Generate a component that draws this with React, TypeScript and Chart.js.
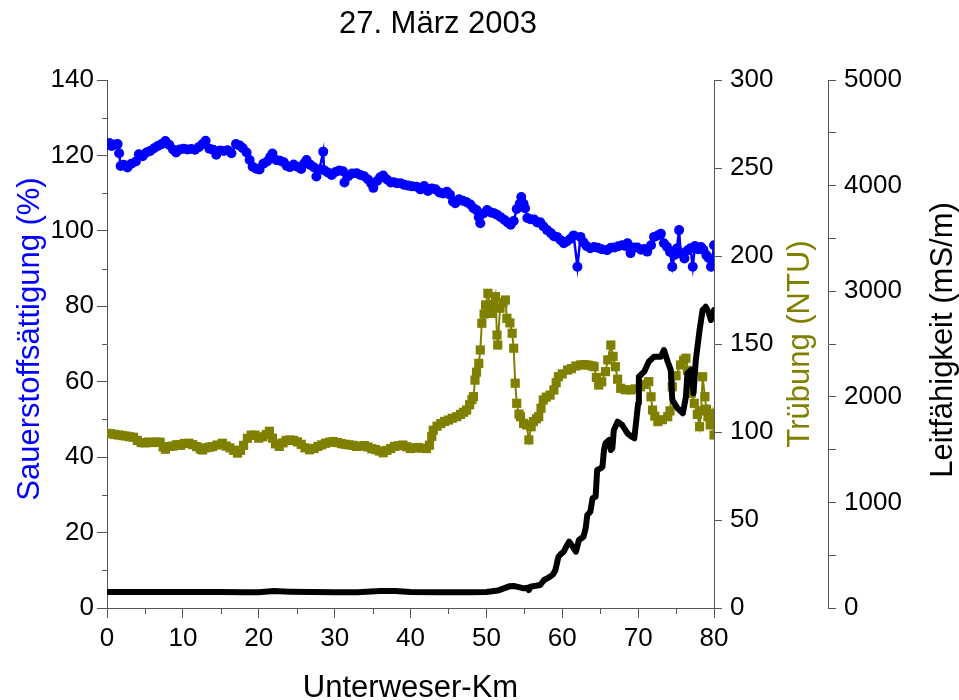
import React, { useEffect, useRef } from "react";
import { Chart, registerables } from "chart.js";

Chart.register(...registerables);

const chartTitle = "27. März 2003";
const xTitle = "Unterweser-Km";
const o2Title = "Sauerstoffsättigung (%)";
const ntuTitle = "Trübung (NTU)";
const lfTitle = "Leitfähigkeit (mS/m)";

// Sauerstoffsättigung (%)
const kmO2 = [0, 0.3, 0.6, 1.0, 1.4, 1.6, 1.8, 2.2, 2.7, 3.2, 3.8, 4.2, 4.7, 5.2, 5.7, 6.2, 6.7, 7.2, 7.7, 8.2, 8.7, 9.1, 9.6, 10.1, 10.6, 11.1, 11.6, 12.1, 12.6, 13.0, 13.5, 14.0, 14.4, 14.9, 15.4, 15.9, 16.4, 17.0, 17.5, 17.9, 18.4, 18.8, 19.2, 19.7, 20.1, 20.6, 21.1, 21.5, 21.8, 22.3, 22.8, 23.3, 23.7, 24.1, 24.6, 25.1, 25.6, 26.0, 26.3, 26.8, 27.3, 27.6, 28.0, 28.5, 28.6, 29.1, 29.6, 30.1, 30.6, 31.1, 31.3, 31.8, 32.3, 32.9, 33.4, 33.9, 34.4, 34.8, 35.1, 35.6, 36.0, 36.4, 36.9, 37.4, 37.8, 38.2, 38.7, 39.2, 39.7, 40.2, 40.8, 41.3, 41.8, 42.3, 42.8, 43.3, 43.8, 44.3, 44.8, 45.2, 45.6, 45.9, 46.4, 46.9, 47.4, 47.9, 48.3, 48.7, 49.0, 49.2, 49.6, 50.1, 50.6, 51.0, 51.4, 51.9, 52.4, 52.8, 53.2, 53.6, 54.0, 54.4, 54.6, 54.9, 55.1, 55.4, 55.8, 56.3, 56.7, 57.1, 57.5, 58.0, 58.5, 58.9, 59.3, 59.8, 60.2, 60.6, 61.1, 61.5, 62.0, 62.4, 62.8, 63.2, 63.7, 64.2, 64.7, 65.2, 65.9, 66.4, 66.9, 67.4, 67.9, 68.3, 68.6, 69.0, 69.5, 69.9, 70.4, 70.8, 71.2, 71.7, 72.1, 72.6, 73.0, 73.4, 73.8, 74.2, 74.5, 74.8, 75.1, 75.4, 75.6, 76.1, 76.5, 76.9, 77.2, 77.5, 77.9, 78.3, 78.6, 79.0, 79.3, 79.6, 79.8, 80.0];
const o2 = [122.8, 123.3, 122.5, 122.9, 123.0, 120.6, 117.2, 117.5, 116.8, 117.8, 118.4, 120.3, 119.8, 120.8, 121.2, 121.9, 122.5, 123.0, 123.8, 122.8, 121.6, 120.8, 121.6, 121.8, 121.6, 121.7, 121.5, 122.2, 123.0, 123.9, 121.8, 121.5, 120.2, 121.3, 121.2, 121.4, 120.6, 123.0, 122.6, 121.9, 120.8, 118.8, 117.0, 116.5, 116.3, 117.8, 118.4, 119.6, 120.5, 118.8, 118.6, 118.2, 117.2, 116.9, 117.6, 117.0, 116.4, 117.9, 118.8, 117.5, 116.8, 114.4, 116.3, 121.0, 116.1, 115.5, 114.8, 115.6, 116.0, 115.8, 112.8, 114.5, 115.2, 115.3, 114.8, 114.5, 113.6, 112.6, 111.4, 113.2, 114.2, 114.7, 113.6, 112.8, 112.9, 112.6, 112.6, 112.2, 112.0, 111.8, 111.7, 111.0, 111.9, 110.6, 111.2, 111.0, 110.2, 109.9, 110.4, 109.6, 107.8, 107.3, 108.4, 108.0, 107.6, 107.0, 106.0, 105.5, 103.6, 102.0, 104.6, 105.5, 104.9, 104.7, 104.3, 103.6, 102.9, 102.2, 101.6, 102.6, 105.8, 107.2, 109.0, 107.2, 106.0, 103.4, 103.1, 103.0, 102.2, 102.3, 101.2, 100.2, 99.4, 98.6, 98.4, 97.5, 96.7, 97.2, 97.9, 98.8, 90.5, 98.4, 97.0, 96.0, 95.4, 95.7, 95.5, 95.1, 94.9, 95.5, 95.6, 95.9, 96.2, 96.0, 96.7, 94.1, 95.6, 95.6, 95.0, 95.2, 94.5, 96.2, 98.4, 98.8, 99.2, 96.7, 95.8, 94.4, 90.5, 93.6, 95.3, 100.2, 94.1, 92.7, 94.8, 95.4, 90.5, 96.0, 95.1, 95.7, 95.0, 93.5, 92.8, 90.5, 92.5, 96.2];

// Trübung (NTU)
const kmNtu = [0, 0.5, 1.0, 1.5, 2.0, 2.5, 3.0, 3.5, 4.0, 4.5, 5.0, 5.5, 6.0, 6.5, 7.0, 7.4, 7.7, 8.2, 8.7, 9.2, 9.7, 10.2, 10.8, 11.3, 11.8, 12.3, 12.6, 13.0, 13.5, 13.9, 14.5, 15.2, 15.7, 16.2, 16.7, 17.2, 17.6, 18.0, 18.5, 19.0, 19.5, 20.0, 20.5, 21.0, 21.4, 21.8, 22.2, 22.7, 23.2, 23.6, 24.1, 24.6, 25.1, 25.6, 26.1, 26.7, 27.3, 27.8, 28.3, 28.8, 29.3, 29.8, 30.4, 30.9, 31.4, 31.9, 32.4, 32.9, 33.4, 33.9, 34.4, 34.9, 35.4, 35.9, 36.4, 36.9, 37.4, 37.9, 38.4, 39.0, 39.5, 40.0, 40.5, 41.0, 41.5, 42.1, 42.5, 42.8, 43.0, 43.5, 44.0, 44.5, 45.0, 45.5, 46.1, 46.6, 47.0, 47.4, 47.8, 48.1, 48.3, 48.5, 48.7, 49.0, 49.2, 49.4, 49.7, 49.9, 50.2, 50.5, 50.7, 51.0, 51.2, 51.4, 51.5, 51.8, 52.2, 52.5, 52.7, 53.1, 53.4, 53.6, 53.8, 54.0, 54.3, 54.5, 54.9, 55.3, 55.6, 55.9, 56.2, 56.6, 56.9, 57.2, 57.5, 57.9, 58.4, 58.9, 59.2, 59.5, 60.0, 60.7, 61.2, 61.8, 62.4, 62.9, 63.4, 63.9, 64.2, 64.5, 64.8, 65.2, 65.7, 66.0, 66.4, 66.7, 67.0, 67.3, 67.7, 68.3, 69.0, 69.6, 70.3, 70.8, 71.4, 71.7, 71.9, 72.2, 72.6, 73.2, 73.9, 74.2, 74.5, 75.0, 75.6, 76.0, 76.3, 76.5, 76.7, 77.0, 77.4, 77.8, 78.1, 78.3, 78.5, 78.8, 79.0, 79.2, 79.5, 79.8, 80.0];
const ntu = [99.2, 99.0, 98.6, 98.3, 98.0, 97.7, 97.3, 97.0, 95.2, 94.0, 93.8, 94.3, 94.0, 94.3, 94.2, 91.5, 90.2, 91.8, 92.0, 92.8, 92.4, 93.5, 93.6, 92.8, 91.7, 90.3, 89.8, 91.0, 91.4, 91.7, 92.6, 93.6, 92.0, 91.0, 89.6, 88.0, 89.6, 92.4, 96.4, 98.2, 98.2, 96.5, 97.3, 98.6, 100.4, 96.5, 93.3, 91.8, 93.8, 95.2, 95.5, 95.2, 94.4, 93.0, 91.0, 89.9, 90.6, 91.8, 92.7, 93.6, 94.2, 94.6, 94.0, 93.4, 93.0, 92.7, 92.4, 91.8, 92.0, 92.3, 91.5, 90.5, 90.0, 89.2, 88.2, 89.6, 90.6, 91.8, 92.2, 92.6, 91.6, 90.6, 91.0, 91.2, 90.8, 90.6, 92.5, 97.5, 101.0, 103.3, 104.8, 106.0, 106.8, 107.8, 108.7, 110.0, 111.2, 112.5, 115.5, 118.4, 120.1, 129.5, 134.0, 139.0, 146.6, 161.8, 167.0, 172.2, 178.8, 172.0, 167.4, 172.5, 176.9, 155.1, 149.4, 170.3, 173.5, 175.0, 164.6, 162.0, 156.1, 147.6, 127.7, 116.3, 110.2, 108.7, 104.9, 104.0, 95.5, 103.0, 105.9, 107.5, 108.7, 113.5, 118.2, 119.8, 121.0, 123.9, 128.0, 131.4, 133.0, 135.2, 136.0, 137.5, 138.1, 138.3, 138.0, 137.6, 137.1, 131.0, 126.7, 128.5, 134.3, 141.0, 149.4, 143.0, 137.1, 130.0, 124.8, 124.0, 123.9, 124.5, 125.7, 127.0, 128.6, 120.0, 112.5, 109.0, 105.9, 107.0, 108.7, 112.0, 125.7, 132.0, 138.1, 140.8, 141.9, 135.0, 128.6, 122.0, 116.3, 110.0, 103.0, 112.0, 131.4, 120.1, 113.0, 108.7, 104.0, 110.6, 98.3];

// Leitfähigkeit (mS/m)
const kmLf = [0, 5, 10, 15, 18, 20, 22, 24, 27, 30, 33, 36, 38, 40, 44, 48, 50, 51.5, 52.3, 53.0, 53.6, 54.3, 54.9, 55.4, 55.6, 55.8, 56.5, 57.1, 57.6, 58.0, 58.4, 58.8, 59.1, 59.5, 59.8, 60.2, 60.6, 60.9, 61.3, 61.8, 62.2, 62.8, 63.1, 63.3, 63.7, 64.0, 64.4, 64.6, 65.0, 65.3, 65.5, 65.7, 66.0, 66.2, 66.4, 66.6, 66.8, 67.3, 67.9, 68.6, 69.0, 69.5, 70.0, 70.1, 70.8, 71.4, 72.1, 73.0, 73.4, 73.9, 74.3, 74.5, 75.2, 75.9, 76.3, 76.5, 77.0, 77.3, 77.6, 78.1, 78.5, 78.9, 79.3, 79.6, 80.0];
const lf = [152, 152, 152, 152, 150, 150, 160, 155, 152, 148, 150, 160, 160, 152, 150, 148, 152, 165, 186, 205, 208, 198, 186, 192, 170, 202, 210, 218, 265, 280, 296, 320, 360, 486, 510, 533, 590, 628, 590, 533, 644, 675, 760, 881, 912, 1039, 1054, 1307, 1320, 1338, 1496, 1560, 1580, 1591, 1496, 1512, 1686, 1764, 1733, 1654, 1630, 1607, 1938, 2190, 2238, 2332, 2380, 2380, 2443, 2332, 2254, 1970, 1891, 1844, 2001, 2222, 2254, 2033, 2348, 2632, 2822, 2853, 2800, 2727, 2822];

const FONT = "'Liberation Sans', Arial, sans-serif";
const AXIS_COLOR = "#555";

const toPts = (xs: number[], ys: number[]) => xs.map((x, i) => ({ x, y: ys[i] }));

const textPlugin = {
  id: "customText",
  afterDraw(chart: any) {
    const ctx = chart.ctx;
    const ca = chart.chartArea;
    const sx = chart.scales.x;
    const sy = chart.scales.y;
    ctx.save();
    ctx.strokeStyle = AXIS_COLOR;
    ctx.lineWidth = 1;
    ctx.beginPath();
    for (let v = 10; v < 140; v += 20) {
      const py = Math.round(sy.getPixelForValue(v)) + 0.5;
      ctx.moveTo(ca.left - 5, py);
      ctx.lineTo(ca.left, py);
    }
    for (let v = 5; v < 80; v += 10) {
      const px = Math.round(sx.getPixelForValue(v)) + 0.5;
      ctx.moveTo(px, ca.bottom);
      ctx.lineTo(px, ca.bottom + 6);
    }
    ctx.stroke();

    ctx.fillStyle = "#000";
    ctx.font = `31px ${FONT}`;
    ctx.textAlign = "center";
    ctx.textBaseline = "alphabetic";
    ctx.fillText(chartTitle, 438, 33);
    ctx.fillText(xTitle, (ca.left + ca.right) / 2, 697);

    const vtext = (t: string, x: number, y: number, color: string) => {
      ctx.save();
      ctx.translate(x, y);
      ctx.rotate(-Math.PI / 2);
      ctx.fillStyle = color;
      ctx.textAlign = "center";
      ctx.textBaseline = "middle";
      ctx.fillText(t, 0, 0);
      ctx.restore();
    };
    vtext(o2Title, 30, 339, "#0000ff");
    vtext(ntuTitle, 800, 344, "#808000");
    vtext(lfTitle, 943, 340, "#000000");
    ctx.restore();
  },
};

export default function App() {
  const ref = useRef<HTMLCanvasElement | null>(null);
  useEffect(() => {
    if (!ref.current) return;
    const grid = (len: number) => ({
      drawOnChartArea: false,
      drawTicks: true,
      tickLength: len,
      color: AXIS_COLOR,
      lineWidth: 1,
    });
    const border = { display: true, color: AXIS_COLOR, width: 1 };
    const tickFont = { family: FONT, size: 26 };
    const chart = new Chart(ref.current, {
      type: "line",
      data: {
        datasets: [
          {
            label: "Leitfähigkeit",
            data: toPts(kmLf, lf),
            yAxisID: "y2",
            borderColor: "#000000",
            backgroundColor: "#000000",
            borderWidth: 6,
            pointRadius: 0,
            borderJoinStyle: "round",
            borderCapStyle: "round",
            tension: 0,
            order: 0,
          },
          {
            label: "Sauerstoffsättigung",
            data: toPts(kmO2, o2),
            yAxisID: "y",
            borderColor: "#0000ff",
            backgroundColor: "#0000ff",
            borderWidth: 2.5,
            pointRadius: 5,
            pointBorderWidth: 0,
            pointStyle: "circle",
            order: 1,
          },
          {
            label: "Trübung",
            data: toPts(kmNtu, ntu),
            yAxisID: "y1",
            borderColor: "#808000",
            backgroundColor: "#808000",
            borderWidth: 2,
            pointRadius: 6.5,
            pointBorderWidth: 0,
            pointStyle: "rect",
            order: 2,
          },
        ],
      },
      options: {
        responsive: false,
        animation: false,
        events: [],
        layout: { padding: { top: 80, left: 0, right: 0, bottom: 0 } },
        plugins: {
          legend: { display: false },
          title: { display: false },
          tooltip: { enabled: false },
        },
        scales: {
          x: {
            type: "linear",
            position: "bottom",
            min: 0,
            max: 80,
            grid: grid(10),
            border,
            ticks: {
              stepSize: 10,
              color: "#000",
              font: tickFont,
              padding: 5,
              maxRotation: 0,
            },
            afterFit: (s: any) => {
              s.height = 92;
            },
          },
          y: {
            type: "linear",
            position: "left",
            min: 0,
            max: 140,
            grid: grid(10),
            border,
            ticks: { stepSize: 20, color: "#000", font: tickFont, padding: 3 },
            afterFit: (s: any) => {
              s.width = 107;
            },
          },
          y1: {
            type: "linear",
            position: "right",
            weight: 0,
            min: 0,
            max: 300,
            grid: grid(8),
            border,
            ticks: { stepSize: 50, color: "#000", font: tickFont, padding: 8 },
            afterFit: (s: any) => {
              s.width = 114;
            },
          },
          y2: {
            type: "linear",
            position: "right",
            weight: 1,
            min: 0,
            max: 5000,
            grid: grid(8),
            border,
            ticks: {
              stepSize: 500,
              color: "#000",
              font: tickFont,
              padding: 8,
              autoSkip: false,
              callback: (v: any) => (Number(v) % 1000 === 0 ? String(v) : ""),
            },
            afterFit: (s: any) => {
              s.width = 131;
            },
          },
        },
      } as any,
      plugins: [textPlugin],
    });
    return () => chart.destroy();
  }, []);
  return (
    <div style={{ position: "absolute", left: 0, top: 0, width: 959, height: 700, background: "#fff" }}>
      <canvas ref={ref} width={959} height={700} style={{ display: "block" }} />
    </div>
  );
}
